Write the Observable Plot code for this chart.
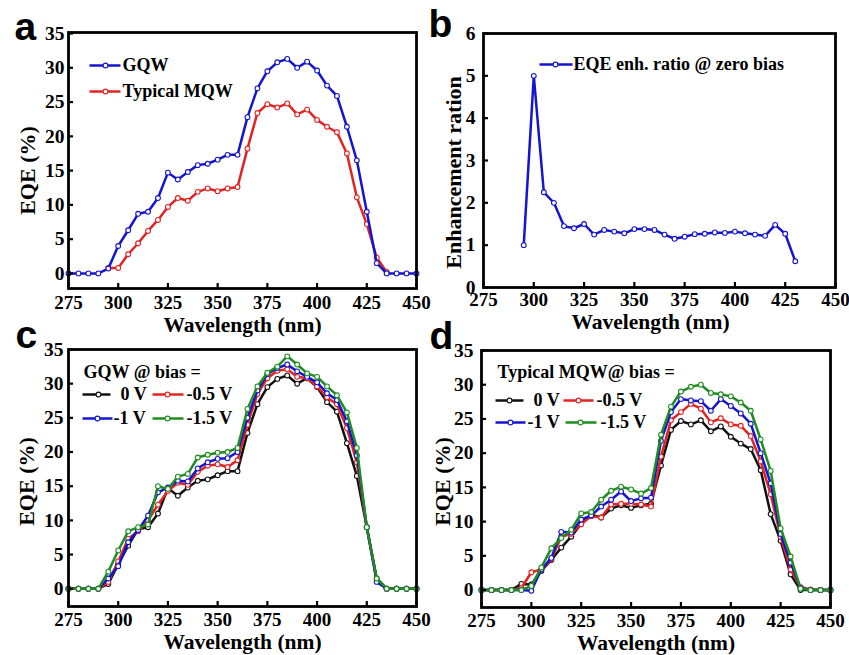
<!DOCTYPE html>
<html><head><meta charset="utf-8">
<script src="https://cdn.jsdelivr.net/npm/d3@7"></script>
<script src="https://cdn.jsdelivr.net/npm/@observablehq/plot@0.6"></script>
<style>
body{margin:0;background:#fff;}
#wrap{position:relative;width:849px;height:655px;overflow:hidden;background:#fff;}
.panel{position:absolute;}
</style></head><body><div id="wrap"></div>
<script>
// ---------- data ----------
const wavelength = [275,280,285,290,295,300,305,310,315,320,325,330,335,340,345,350,355,360,365,370,375,380,385,390,395,400,405,410,415,420,425,430,435,440,445,450];
const xTicks = [275,300,325,350,375,400,425,450];
const eqeTicks = [0,5,10,15,20,25,30,35];
const ratioTicks = [0,1,2,3,4,5,6];

// panel a
const gqw = [0,0,0,0,0.7,4.0,6.3,8.7,9.0,11.0,14.7,13.7,14.8,15.8,16.0,16.6,17.3,17.3,22.8,27.0,29.5,30.8,31.3,30.0,30.9,29.6,27.4,25.9,21.4,16.5,9.0,1.5,0,0,0,0];
const mqw = [null,null,null,null,0.8,0.8,2.8,4.4,6.2,7.8,9.7,11.0,10.6,11.9,12.4,12.0,12.4,12.6,18.2,23.4,24.7,24.2,24.8,23.2,23.9,22.4,21.4,20.6,17.5,11.1,7.2,2.3,0.2,null,null,null];
// panel b
const ratio = [null,null,null,null,1.0,5.0,2.25,2.0,1.45,1.4,1.5,1.25,1.36,1.32,1.28,1.38,1.38,1.36,1.25,1.15,1.2,1.26,1.27,1.3,1.29,1.32,1.28,1.25,1.22,1.48,1.27,0.62,null,null,null,null];
// panel c (GQW @ bias)
const gqw0V   = [0,0,0,0,0.7,3.6,6.3,8.7,9.0,11.0,14.7,13.6,14.8,15.8,16.0,16.6,17.2,17.2,22.8,27.0,29.5,30.7,31.2,30.0,30.8,29.5,27.3,25.9,21.3,16.5,9.0,1.5,0,0,0,0];
const gqw05V  = [0,0,0,0,1.0,4.0,7.3,8.4,10.0,12.3,14.3,15.5,15.2,17.1,18.0,18.2,17.8,18.8,24.0,28.5,30.8,31.9,32.1,31.0,30.8,29.6,28.0,27.0,23.5,18.5,9.0,1.3,0,0,0,0];
const gqw1V   = [0,0,0,0,1.5,3.3,6.8,8.6,10.7,14.1,14.8,15.8,15.7,17.6,18.5,19.0,19.1,20.0,25.0,29.0,31.4,32.3,32.8,31.8,31.0,30.2,28.6,27.6,24.5,19.5,9.0,1.0,0,0,0,0];
const gqw15V  = [0,0,0,0,2.5,5.6,8.4,9.0,9.4,15.0,14.6,16.4,16.8,19.2,19.6,19.9,20.0,20.6,26.3,29.6,31.6,32.5,34.0,32.8,31.5,31.0,29.6,28.3,25.8,20.6,9.0,1.5,0,0,0,0];
// panel d (Typical MQW @ bias)
const mqw0V   = [0,0,0,0,0.9,0.8,2.8,4.4,6.2,7.8,9.7,11.0,10.6,11.9,12.4,12.0,12.4,12.6,18.2,23.4,24.7,24.2,24.8,23.2,23.9,22.4,21.4,20.6,17.5,11.1,7.2,2.3,0,0,0,0];
const mqw05V  = [0,0,0,0,0.3,2.6,3.0,4.5,7.8,8.2,9.6,10.8,10.6,12.5,12.6,12.6,12.5,12.2,19.5,24.8,26.0,27.2,26.5,24.5,25.1,24.2,24.0,22.5,18.8,14.0,7.8,3.0,0.4,0.1,0,0];
const mqw1V   = [0,0,0,0,0,-0.1,3.0,4.7,8.5,8.4,10.3,10.9,12.2,13.2,14.4,13.0,13.4,13.5,21.8,26.0,27.9,27.7,27.6,26.2,27.9,26.9,25.8,24.3,20.0,15.6,8.2,4.0,0.3,0,0,0];
const mqw15V  = [0,0,0,0,0,0.6,3.3,6.1,7.6,8.8,11.2,11.4,13.2,14.5,15.1,14.7,14.1,14.9,22.7,26.8,29.0,29.7,30.0,28.8,28.6,28.3,27.4,26.2,22.0,17.4,9.0,4.9,0.2,0,0,0];

// ---------- styles ----------
const C = {black:"#111111", red:"#e42222", blue:"#1414d2", green:"#1f8c1f"};
const SERIF = "'Liberation Serif','Times New Roman',serif";
const SANS = "'Liberation Sans',Arial,sans-serif";
const hline = {draw(ctx, l){ ctx.moveTo(0,0); ctx.lineTo(0,-l); }};

function rowsOf(vals){ return wavelength.map((w,i)=>({w, v: vals[i]})); }

function panel(cfg){
  const marks = [];
  for (const s of cfg.series){
    const rows = rowsOf(s.values);
    marks.push(Plot.line(rows, {x:"w", y:"v", stroke:s.color, strokeWidth:2.5}));
    marks.push(Plot.dot(rows, {x:"w", y:"v", r:2.4, stroke:s.color, fill:"white", strokeWidth:1.1}));
  }
  marks.push(Plot.frame({stroke:"black", strokeWidth:2.8}));
  marks.push(Plot.axisX({ticks:xTicks, tickFormat:"d", tickSize:-5, tickPadding:cfg.xPad, strokeWidth:2.2, fontSize:19, fontWeight:"bold", label:null}));
  marks.push(Plot.axisY({ticks:cfg.yTicks, tickFormat:"d", tickSize:-5, tickPadding:cfg.yPad, strokeWidth:2.2, fontSize:19.5, fontWeight:"bold", label:null}));
  marks.push(Plot.text(["Wavelength (nm)"], {frameAnchor:"bottom", dx:cfg.xl[0], dy:cfg.xl[1], lineAnchor:"middle", fontSize:21.5, fontWeight:"bold", text:d=>d}));
  marks.push(Plot.text([cfg.ylabel], {frameAnchor:"left", rotate:-90, dx:cfg.yl[0], dy:cfg.yl[1], lineAnchor:"middle", textAnchor:"middle", fontSize:22, fontWeight:"bold", text:d=>d}));
  marks.push(Plot.text([cfg.letter], {frameAnchor:"top-left", dx:cfg.lp[0], dy:cfg.lp[1], lineAnchor:"middle", textAnchor:"start", fontSize:39, fontWeight:"bold", fontFamily:SANS, text:d=>d}));
  for (const it of cfg.legend){
    if (it.line){
      const [x0,x1,y,m] = it.line;
      marks.push(Plot.vector([0], {frameAnchor:"top-left", dx:x0, dy:y, length:x1-x0, rotate:90, anchor:"start", shape:hline, stroke:it.color, strokeWidth:2.5, strokeLinecap:"butt"}));
      marks.push(Plot.dot([0], {frameAnchor:"top-left", dx:m, dy:y, r:2.4, stroke:it.color, fill:"white", strokeWidth:1.1}));
    }
    if (it.text){
      marks.push(Plot.text([it.text], {frameAnchor:"top-left", dx:it.at[0], dy:it.at[1], textAnchor:"start", lineAnchor:"middle", fontSize:18, fontWeight:"bold", text:d=>d}));
    }
  }
  const el = Plot.plot({
    width: cfg.w, height: cfg.h,
    marginLeft: cfg.m[0], marginRight: cfg.m[1], marginTop: cfg.m[2], marginBottom: cfg.m[3],
    x: {domain:[275,450]},
    y: {domain: cfg.yDomain},
    style: {fontFamily: SERIF, fontSize:"20px", color:"black", background:"transparent", overflow:"visible"},
    marks
  });
  const div = document.createElement("div");
  div.className = "panel";
  div.style.left = cfg.pos[0] + "px";
  div.style.top = cfg.pos[1] + "px";
  div.appendChild(el);
  document.getElementById("wrap").appendChild(div);
}

panel({
  pos:[0,0], w:425, h:340, m:[68,9,32,52], yDomain:[-2.2,35.15], yTicks:eqeTicks, xPad:12, yPad:9,
  xl:[0,36.5], yl:[-41,10], ylabel:"EQE (%)", letter:"a", lp:[-54,-5],
  series:[{values:mqw, color:C.red},{values:gqw, color:C.blue}],
  legend:[
    {line:[21,52,33,37], color:C.blue, text:"GQW", at:[54,33]},
    {line:[21,52,59,37], color:C.red, text:"Typical MQW", at:[54,59]}
  ]
});
panel({
  pos:[425,0], w:424, h:340, m:[58,14,33,53], yDomain:[0,6], yTicks:ratioTicks, xPad:10, yPad:13,
  xl:[-9,34.5], yl:[-30,12], ylabel:"Enhancement ration", letter:"b", lp:[-55,-9],
  series:[{values:ratio, color:C.blue}],
  legend:[
    {line:[56,89,31,72], color:C.blue, text:"EQE enh. ratio @ zero bias", at:[90,31]}
  ]
});
panel({
  pos:[0,330], w:425, h:325, m:[68,9,19,49], yDomain:[-2.6,35], yTicks:eqeTicks, xPad:11, yPad:10,
  xl:[0,35.5], yl:[-42,3.5], ylabel:"EQE (%)", letter:"c", lp:[-53,-14],
  series:[{values:gqw0V, color:C.black},{values:gqw05V, color:C.red},{values:gqw1V, color:C.blue},{values:gqw15V, color:C.green}],
  legend:[
    {text:"GQW @ bias =", at:[15,23]},
    {line:[14,42,45,30], color:C.black, text:"0 V", at:[52,45]},
    {line:[84,115,45,99], color:C.red, text:"-0.5 V", at:[118,45]},
    {line:[14,44,69,29], color:C.blue, text:"-1 V", at:[45,69]},
    {line:[84,115,69,99], color:C.green, text:"-1.5 V", at:[118,69]}
  ]
});
panel({
  pos:[425,330], w:424, h:325, m:[56,19,20,48], yDomain:[-2.55,35], yTicks:eqeTicks, xPad:11, yPad:13,
  xl:[0,35.5], yl:[-39,2.5], ylabel:"EQE (%)", letter:"d", lp:[-52,-14],
  series:[{values:mqw0V, color:C.black},{values:mqw05V, color:C.red},{values:mqw1V, color:C.blue},{values:mqw15V, color:C.green}],
  legend:[
    {text:"Typical MQW@ bias =", at:[16,22]},
    {line:[14,42,50,28], color:C.black, text:"0 V", at:[52,50]},
    {line:[82,112,50,97], color:C.red, text:"-0.5 V", at:[115,50]},
    {line:[14,44,72,29], color:C.blue, text:"-1 V", at:[46,72]},
    {line:[84,115,72,99], color:C.green, text:"-1.5 V", at:[119,72]}
  ]
});
</script></body></html>
